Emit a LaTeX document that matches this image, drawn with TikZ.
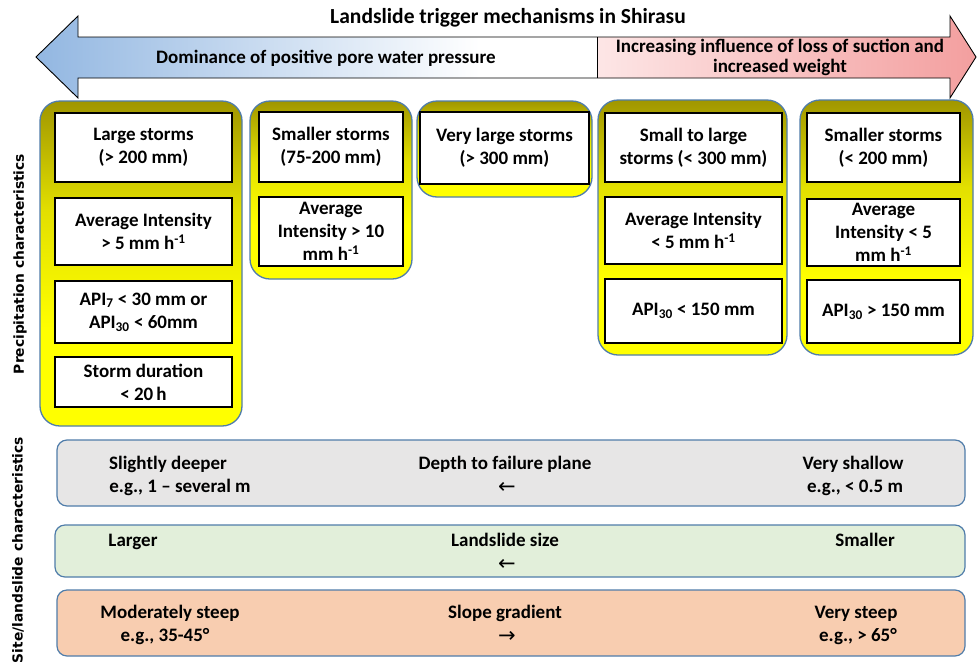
\documentclass[tikz,border=0pt]{standalone}
\usepackage{fontspec}
\setmainfont{Carlito}
\newfontfamily\djv{DejaVu Sans}
\definecolor{olivetop}{RGB}{160,150,0}
\definecolor{pborder}{RGB}{80,125,170}
\definecolor{blueL}{RGB}{145,182,225}
\definecolor{pinkA}{RGB}{253,230,230}
\definecolor{pinkB}{RGB}{243,158,158}
\definecolor{bargray}{RGB}{231,230,230}
\definecolor{bargreen}{RGB}{226,239,218}
\definecolor{barpeach}{RGB}{248,205,176}
\pgfdeclareverticalshading{panelshade}{100bp}{color(0bp)=(yellow); color(25bp)=(yellow); color(40bp)=(yellow); color(58bp)=(yellow!70!olivetop); color(75bp)=(olivetop); color(100bp)=(olivetop)}
\begin{document}
\begin{tikzpicture}[x=1pt,y=-1pt,
  panel/.style={draw=pborder, line width=1.3pt, rounded corners=20pt, shading=panelshade, inner sep=0pt},
  cell/.style={draw=black, line width=1.3pt, fill=white, inner sep=0pt, align=center, font=\bfseries\fontsize{19}{23}\selectfont},
  bar/.style={draw=pborder, line width=1.2pt, rounded corners=10pt, inner sep=0pt},
  btxt/.style={inner sep=0pt, align=center, font=\bfseries\fontsize{19}{23}\selectfont},
  bl/.style={btxt, anchor=base},
  arr/.style={inner sep=0pt, anchor=base, font=\djv\fontsize{21}{22}\selectfont},
  side/.style={rotate=90, inner sep=0pt, font=\djv\bfseries\fontsize{13.8}{16}\selectfont}]
\useasboundingbox (0,0) rectangle (977,667);
\fill[white] (0,0) rectangle (977,667);
% big double arrow
\coordinate (tipL) at (36,57);
\coordinate (tipR) at (976,57);
\begin{scope}
\clip (tipL) -- (78,16) -- (78,37) -- (950,37) -- (950,16) -- (tipR) -- (950,98) -- (950,78) -- (78,78) -- (78,98) -- cycle;
\shade[left color=blueL, right color=white] (30,0) rectangle (480,110);
\fill[white] (480,0) rectangle (597,110);
\shade[left color=pinkA, right color=pinkB] (597,0) rectangle (980,110);
\end{scope}
\draw[line width=0.9pt] (tipL) -- (78,16) -- (78,37) -- (950,37) -- (950,16) -- (tipR) -- (950,98) -- (950,78) -- (78,78) -- (78,98) -- cycle;
\coordinate (splitT) at (597,37);
\coordinate (splitB) at (597,78);
\draw[line width=0.9pt] (splitT) -- (splitB);
\node[inner sep=0pt, font=\bfseries\fontsize{21.5}{24}\selectfont] (title) at (508,18) {Landslide trigger mechanisms in Shirasu};
\node[btxt] (dom) at (326,58) {Dominance of positive pore water pressure};
\node[btxt, font=\bfseries\fontsize{19}{20}\selectfont] (inc) at (780,57) {Increasing influence of loss of suction and\\increased weight};
% panels
\node[panel, minimum width=202pt, minimum height=325pt] (p1) at (141,263.5) {};
\node[panel, minimum width=162pt, minimum height=178pt] (p2) at (331,190) {};
\node[panel, minimum width=175pt, minimum height=96pt] (p3) at (504.5,149) {};
\node[panel, minimum width=189pt, minimum height=255pt] (p4) at (692.5,227.5) {};
\node[panel, minimum width=173pt, minimum height=255pt] (p5) at (886.5,227.5) {};
% panel 1
\node[cell, minimum width=177pt, minimum height=69pt] (a1) at (143.5,147.5) {Large storms\\(> 200 mm)};
\node[cell, minimum width=177pt, minimum height=67pt] (a2) at (143.5,231.5) {Average Intensity\\> 5 mm h\textsuperscript{-1}};
\node[cell, minimum width=177pt, minimum height=62pt] (a3) at (143.5,312) {API\textsubscript{7} < 30 mm or\\API\textsubscript{30} < 60mm};
\node[cell, minimum width=177pt, minimum height=50pt] (a4) at (143.5,382) {Storm duration\\< 20\,h};
% panel 2
\node[cell, minimum width=144pt, minimum height=70pt] (b1) at (331,147) {Smaller storms\\(75-200 mm)};
\node[cell, minimum width=144pt, minimum height=69pt] (b2) at (331,231.5) {Average\\Intensity > 10\\mm h\textsuperscript{-1}};
% panel 3
\node[cell, minimum width=169pt, minimum height=72pt] (c1) at (504.5,148) {Very large storms\\(> 300 mm)};
% panel 4
\node[cell, minimum width=177pt, minimum height=69pt] (d1) at (693.5,147.5) {Small to large\\storms (< 300 mm)};
\node[cell, minimum width=177pt, minimum height=67pt] (d2) at (693.5,230.5) {Average Intensity\\< 5 mm h\textsuperscript{-1}};
\node[cell, minimum width=177pt, minimum height=64pt] (d3) at (693.5,311) {API\textsubscript{30} < 150 mm};
% panel 5
\node[cell, minimum width=153pt, minimum height=69pt] (e1) at (883.5,147.5) {Smaller storms\\(< 200 mm)};
\node[cell, minimum width=153pt, minimum height=67pt] (e2) at (883.5,232.5) {Average\\Intensity < 5\\mm h\textsuperscript{-1}};
\node[cell, minimum width=153pt, minimum height=63pt] (e3) at (883.5,311.5) {API\textsubscript{30} > 150 mm};
% side labels
\node[side] (lab1) at (20,264) {Precipitation characteristics};
\node[side] (lab2) at (18,550) {Site/landslide characteristics};
% bars
\node[bar, fill=bargray, minimum width=908pt, minimum height=66pt] (bar1) at (511,473) {};
\node[bar, fill=bargreen, minimum width=910pt, minimum height=52pt] (bar2) at (510,551) {};
\node[bar, fill=barpeach, minimum width=908pt, minimum height=66pt] (bar3) at (511,623) {};
% bar 1 texts
\node[bl] (s1) at (168,469) {Slightly deeper};
\node[bl] (s2) at (180,492) {e.g., 1 -- several m};
\node[bl] (s3) at (505,469) {Depth to failure plane};
\node[arr] (s4) at (507,493) {←};
\node[bl] (s5) at (853,469) {Very shallow};
\node[bl] (s6) at (855,492) {e.g., < 0.5 m};
% bar 2 texts
\node[bl] (t1) at (133,546) {Larger};
\node[bl] (t2) at (505,546) {Landslide size};
\node[arr] (t3) at (507,570) {←};
\node[bl] (t4) at (865,546) {Smaller};
% bar 3 texts
\node[bl] (u1) at (170,618) {Moderately steep};
\node[bl] (u2) at (165,641) {e.g., 35-45°};
\node[bl] (u3) at (505,618) {Slope gradient};
\node[arr] (u4) at (507,642) {→};
\node[bl] (u5) at (856,618) {Very steep};
\node[bl] (u6) at (858,641) {e.g., > 65°};
\end{tikzpicture}
\end{document}
